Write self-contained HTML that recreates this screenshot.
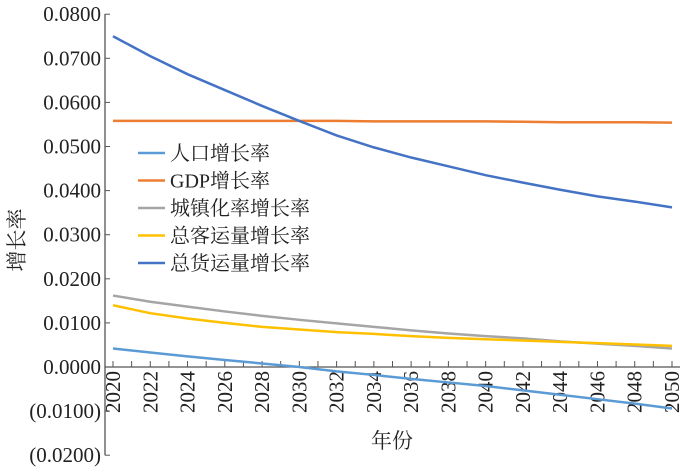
<!DOCTYPE html>
<html><head><meta charset="utf-8"><style>
body{margin:0;background:#fff}
svg{display:block}
svg text{font-family:"Liberation Serif","DejaVu Serif","Noto Serif CJK SC","Noto Sans CJK SC",serif}
</style></head><body>
<svg id="c" width="693" height="471"></svg>
<script>
const years=[2020,2022,2024,2026,2028,2030,2032,2034,2036,2038,2040,2042,2044,2046,2048,2050];
const popRate=[.0042,.0033,.0024,.0016,.0008,.0000,-.0010,-.0018,-.0027,-.0035,-.0043,-.0053,-.0063,-.0073,-.0083,-.0094];
const gdpRate=[.0558,.0558,.0558,.0558,.0558,.0558,.0558,.0557,.0557,.0557,.0557,.0556,.0555,.0555,.0555,.0554];
const urbanRate=[.0162,.0148,.0137,.0126,.0116,.0107,.0099,.0091,.0083,.0076,.0070,.0065,.0058,.0053,.0048,.0042];
const passengerRate=[.0140,.0122,.0110,.0100,.0091,.0085,.0079,.0075,.0070,.0066,.0063,.0060,.0057,.0054,.0051,.0048];
const freightRate=[.0750,.0705,.0664,.0628,.0592,.0558,.0525,.0498,.0475,.0455,.0435,.0418,.0402,.0387,.0375,.0362];
const yTicks=[0.08,0.07,0.06,0.05,0.04,0.03,0.02,0.01,0,-0.01,-0.02];
const yTickLabels=["0.0800","0.0700","0.0600","0.0500","0.0400","0.0300","0.0200","0.0100","0.0000","(0.0100)","(0.0200)"];
const xTickLabels=[2020,2022,2024,2026,2028,2030,2032,2034,2036,2038,2040,2042,2044,2046,2048,2050];
const seriesNames=["人口增长率","GDP增长率","城镇化率增长率","总客运量增长率","总货运量增长率"];
const NS="http://www.w3.org/2000/svg",svg=document.getElementById('c');
const FF='"Liberation Serif","DejaVu Serif","Noto Serif CJK SC","Noto Sans CJK SC",serif';
const X=y=>113+(y-2020)*(559/30);
const Y=v=>367-v*4410;
function mk(t,a,p){const e=document.createElementNS(NS,t);for(const k in a)e.setAttribute(k,a[k]);if(t==='text')e.setAttribute('font-family',FF);(p||svg).appendChild(e);return e;}
let ya=mk('line',{x1:105,y1:14,x2:105,y2:Y(-0.02),stroke:'#555','stroke-width':1.3});


let xa=mk('line',{x1:105,y1:367,x2:680,y2:367,stroke:'#555','stroke-width':1.3});


yTicks.forEach((v,i)=>{
 mk('line',{x1:105,y1:Y(v),x2:110,y2:Y(v),stroke:'#555'});
 const t=mk('text',{x:101,y:Y(v)+7,'text-anchor':'end','font-size':21,fill:'#222'});
 t.textContent=yTickLabels[i];
 
 
});
for(let y=2020;y<=2050;y++) mk('line',{x1:X(y),y1:367,x2:X(y),y2:361,stroke:'#555'});
xTickLabels.forEach(y=>{
 const t=mk('text',{transform:`translate(${X(y)+7},371) rotate(-90)`,'text-anchor':'end','font-size':21,fill:'#222'});
 t.textContent=y;
 
 
});
const colors=['#5b9bd5','#ed7d31','#a5a5a5','#ffc000','#4472c4'];
const data=[popRate,gdpRate,urbanRate,passengerRate,freightRate];
const names=['population-line','gdp-line','urbanization-line','passenger-line','freight-line'];
data.forEach((d,i)=>{
 const p=mk('polyline',{points:d.map((v,j)=>X(years[j])+','+Y(v)).join(' '),fill:'none',stroke:colors[i],'stroke-width':2.5});
 
 
});
seriesNames.forEach((n,i)=>{
 const y=153+i*27.5;
 const g=mk('g',{});
 
 
 mk('line',{x1:138,y1:y,x2:165,y2:y,stroke:colors[i],'stroke-width':2.5},g);
 const t=mk('text',{x:170,y:y+7,'font-size':20,fill:'#222'},g);t.textContent=n;
});
const yl=mk('text',{transform:'translate(24,240) rotate(-90)','text-anchor':'middle','font-size':21,fill:'#222'});
yl.textContent='增长率';


const xl=mk('text',{x:392,y:448,'text-anchor':'middle','font-size':21,fill:'#222'});
xl.textContent='年份';


</script>
</body></html>
